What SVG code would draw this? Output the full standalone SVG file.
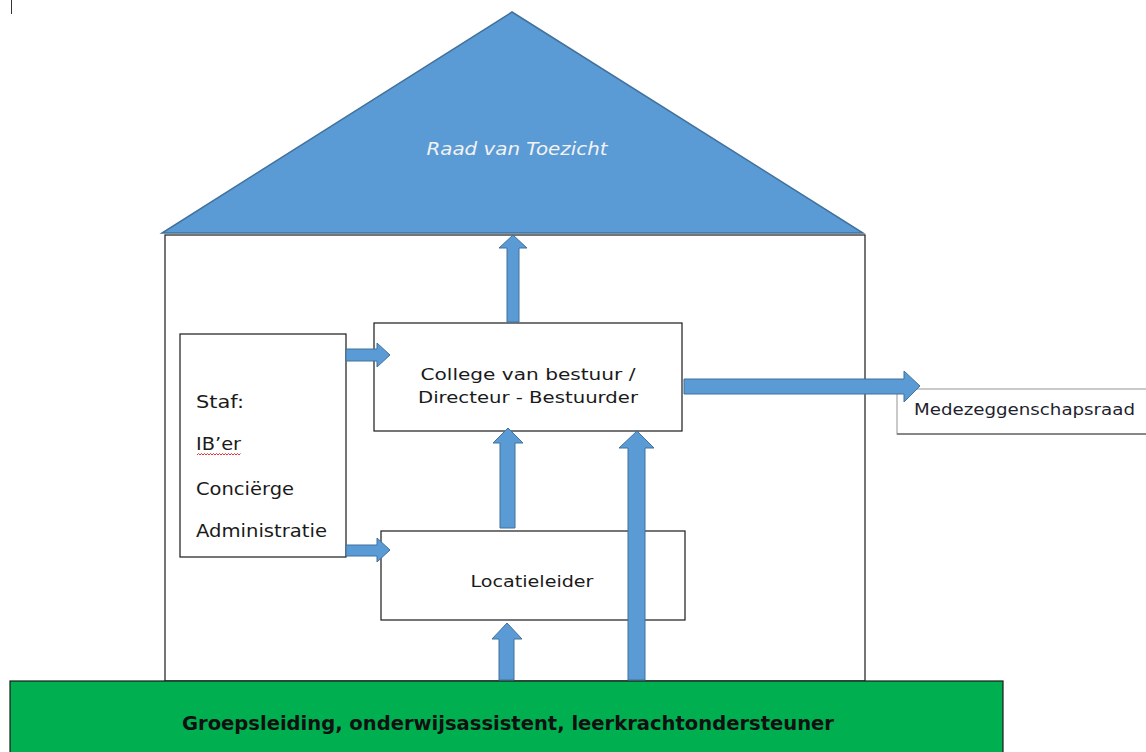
<svg xmlns="http://www.w3.org/2000/svg" width="1146" height="752" viewBox="0 0 1146 752">
<style>
.box{fill:#fff;stroke:#1a1a1a;stroke-width:1.2}
.arr{fill:#5b9bd5;stroke:#41719c;stroke-width:1}
.t{font-family:"DejaVu Sans","Liberation Sans",sans-serif;font-size:16.5px;fill:#1a1a1a}
.s{font-family:"DejaVu Sans","Liberation Sans",sans-serif;font-size:17.5px;fill:#1a1a1a}
</style>
<rect width="1146" height="752" fill="#fff"/>
<line x1="11.5" y1="0" x2="11.5" y2="14" stroke="#333" stroke-width="1"/>
<g id="house">
<rect x="165" y="235" width="700" height="446" fill="#fff" stroke="#1a1a1a" stroke-width="1.2"/>
</g>
<g id="raad">
<polygon points="512,12 863,233 162,233" fill="#5b9bd5" stroke="#41719c" stroke-width="1.5"/>
<text x="517" y="155" text-anchor="middle" font-family="DejaVu Sans, sans-serif" font-style="italic" font-size="17.5" fill="#f2f2f2" textLength="181" lengthAdjust="spacingAndGlyphs">Raad van Toezicht</text>
</g>
<g id="staf">
<rect class="box" x="180" y="334" width="166" height="223"/>
<text class="s" x="196" y="408" textLength="48" lengthAdjust="spacingAndGlyphs">Staf:</text>
<text class="s" x="196" y="450" textLength="45" lengthAdjust="spacingAndGlyphs">IB’er</text>
<path d="M197,455 l1.5,-1.5 1.5,1.5 1.5,-1.5 1.5,1.5 1.5,-1.5 1.5,1.5 1.5,-1.5 1.5,1.5 1.5,-1.5 1.5,1.5 1.5,-1.5 1.5,1.5 1.5,-1.5 1.5,1.5 1.5,-1.5 1.5,1.5 1.5,-1.5 1.5,1.5 1.5,-1.5 1.5,1.5 1.5,-1.5 1.5,1.5 1.5,-1.5 1.5,1.5 1.5,-1.5 1.5,1.5 1.5,-1.5 1.5,1.5 1.5,-1.5" fill="none" stroke="#e02020" stroke-width="0.9"/>
<text class="s" x="196" y="495" textLength="98" lengthAdjust="spacingAndGlyphs">Conciërge</text>
<text class="s" x="196" y="537" textLength="131" lengthAdjust="spacingAndGlyphs">Administratie</text>
</g>
<g id="college">
<rect class="box" x="374" y="323" width="308" height="108"/>
<text class="t" x="528" y="380" text-anchor="middle" textLength="215" lengthAdjust="spacingAndGlyphs">College van bestuur /</text>
<text class="t" x="528" y="403" text-anchor="middle" textLength="220" lengthAdjust="spacingAndGlyphs">Directeur - Bestuurder</text>
</g>
<g id="locatieleider">
<rect class="box" x="381" y="531" width="304" height="89"/>
<text class="t" x="532" y="587" text-anchor="middle" textLength="123" lengthAdjust="spacingAndGlyphs">Locatieleider</text>
</g>
<g id="mr">
<rect x="897" y="389" width="252" height="45" fill="#fff" stroke="#a6a6a6" stroke-width="1.2"/>
<line x1="897" y1="434" x2="1146" y2="434" stroke="#707070" stroke-width="1.5"/>
<text x="914" y="415" font-family="DejaVu Sans, sans-serif" font-size="16" fill="#1f1f2e" textLength="221" lengthAdjust="spacingAndGlyphs">Medezeggenschapsraad</text>
</g>
<g id="groep">
<rect x="10" y="681" width="993" height="80" fill="#00b050" stroke="#1a1a1a" stroke-width="1.2"/>
<text x="508" y="730" text-anchor="middle" font-family="DejaVu Sans Condensed, DejaVu Sans, sans-serif" font-weight="bold" font-size="20" fill="#111" textLength="652" lengthAdjust="spacingAndGlyphs">Groepsleiding, onderwijsassistent, leerkrachtondersteuner</text>
</g>
<g id="connectors">
<polygon class="arr" points="507,322 519,322 519,248 527,248 513,235 499,248 507,248"/>
<polygon class="arr" points="346,349 377,349 377,343 390,355 377,367 377,361 346,361"/>
<polygon class="arr" points="346,545 377,545 377,538 390,550 377,562 377,556 346,556"/>
<polygon class="arr" points="500,528 515,528 515,443 523,443 508,428 493,443 500,443"/>
<polygon class="arr" points="499,680 514,680 514,639 522,639 507,623 492,639 499,639"/>
<polygon class="arr" points="628,680 645,680 645,448 654,448 637,431 619,448 628,448"/>
<polygon class="arr" points="684,379 904,379 904,371 920,386 904,402 904,394 684,394"/>
</g>
</svg>
